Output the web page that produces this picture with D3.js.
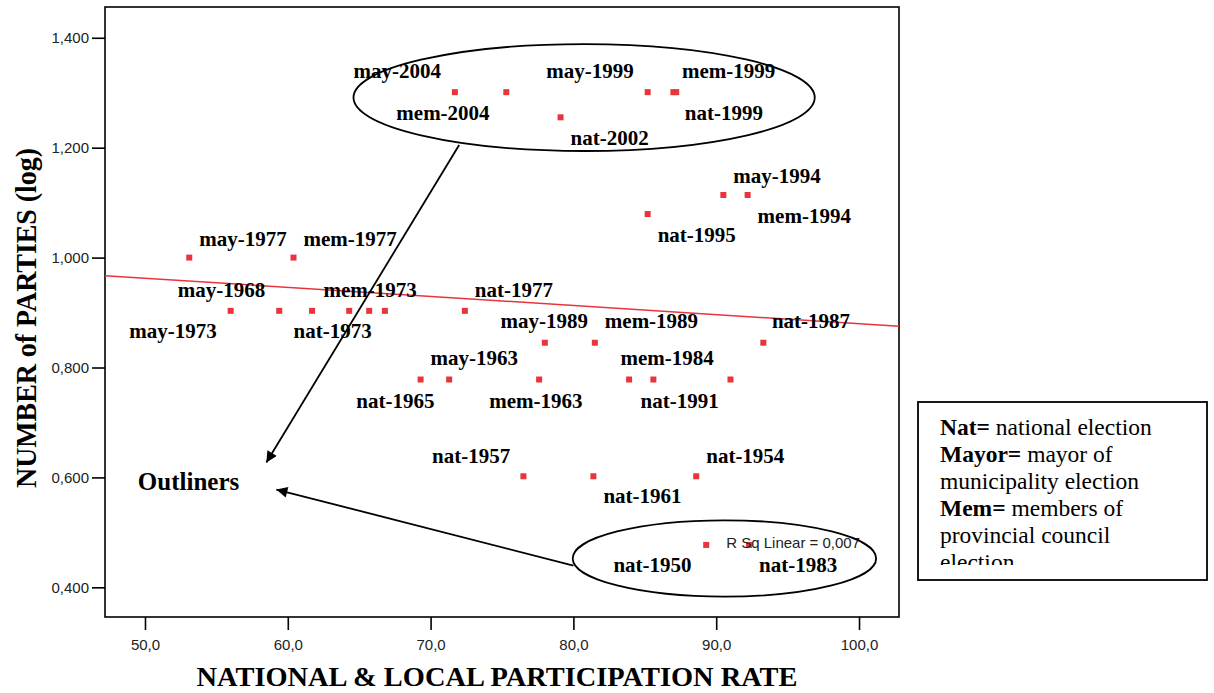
<!DOCTYPE html>
<html>
<head>
<meta charset="utf-8">
<script src="https://cdn.jsdelivr.net/npm/d3@7"></script>
<style>
  body { margin: 0; background: #fff; }
  svg { display: block; }
</style>
</head>
<body>
<svg></svg>
<script>
const width = 1214, height = 693;

// Participation rate (%) and number of parties for every election
const turnout = [
    71.7, 75.3, 85.2, 87.0, 87.2, 79.1,
    90.5, 92.2, 85.2,
    53.1, 60.4,
    56.0, 59.4, 61.7, 64.3, 65.7, 66.8, 72.4,
    78.0, 81.5, 93.3,
    69.3, 71.3, 77.6, 83.9, 85.6, 91.0,
    76.5, 81.4, 88.6,
    89.3, 92.3
];
const parties = [
    20, 20, 20, 20, 20, 18,
    13, 13, 12,
    10, 10,
    8, 8, 8, 8, 8, 8, 8,
    7, 7, 7,
    6, 6, 6, 6, 6, 6,
    4, 4, 4,
    3, 3
];

// Election labels: text, participation, log(parties) where the text starts
const labels = [
    ["may-2004", 64.6, 1.326], ["may-1999", 78.1, 1.326], ["mem-1999", 87.6, 1.326],
    ["mem-2004", 67.6, 1.250], ["nat-1999", 87.8, 1.250], ["nat-2002", 79.8, 1.205],
    ["may-1994", 91.2, 1.136], ["mem-1994", 92.9, 1.063], ["nat-1995", 85.9, 1.029],
    ["may-1977", 53.8, 1.021], ["mem-1977", 61.1, 1.021],
    ["may-1968", 52.3, 0.929], ["mem-1973", 62.5, 0.929], ["nat-1977", 73.1, 0.929],
    ["may-1973", 48.9, 0.853], ["nat-1973", 60.4, 0.853],
    ["may-1989", 74.9, 0.872], ["mem-1989", 82.2, 0.872], ["nat-1987", 93.9, 0.872],
    ["may-1963", 70.0, 0.805], ["mem-1984", 83.3, 0.805],
    ["nat-1965", 64.8, 0.727], ["mem-1963", 74.1, 0.727], ["nat-1991", 84.7, 0.727],
    ["nat-1957", 70.1, 0.626], ["nat-1954", 89.3, 0.626], ["nat-1961", 82.1, 0.553],
    ["nat-1950", 82.8, 0.427], ["nat-1983", 93.0, 0.427]
];

const xTicks = [50, 60, 70, 80, 90, 100];
const yTicks = [0.4, 0.6, 0.8, 1.0, 1.2, 1.4];

const legendLines = [
    ["Nat", " national election"],
    ["Mayor", " mayor of"],
    ["", "municipality election"],
    ["Mem", " members of"],
    ["", "provincial council"],
    ["", "election"]
];

const margin = { top: 7, right: 315, bottom: 76, left: 105 };
const plotW = width - margin.left - margin.right;
const plotH = height - margin.top - margin.bottom;

const svg = d3.select("svg").attr("width", width).attr("height", height);

const x = d3.scaleLinear().domain([47.2, 102.8]).range([0, plotW]);
const y = d3.scaleLinear().domain([0.346, 1.456]).range([plotH, 0]);

const serif = "'Liberation Serif', 'Times New Roman', serif";
const sans = "'Liberation Sans', Arial, sans-serif";
const red = "#e8353d";

const g = svg.append("g").attr("transform", `translate(${margin.left},${margin.top})`);

// Axes
const fmt = d3.formatLocale({ decimal: ",", thousands: ".", grouping: [3], currency: ["", ""] });
const xAxis = g.append("g")
    .attr("transform", `translate(0,${plotH})`)
    .call(d3.axisBottom(x).tickValues(xTicks).tickSize(13).tickPadding(9).tickFormat(fmt.format(".1f")));
const yAxis = g.append("g")
    .call(d3.axisLeft(y).tickValues(yTicks).tickSize(13).tickPadding(3).tickFormat(fmt.format(".3f")));
[xAxis, yAxis].forEach(a => {
    a.select(".domain").remove();
    a.selectAll("line").attr("stroke", "#000").attr("stroke-width", 1.6);
    a.selectAll("text").attr("font-family", sans).attr("font-size", 15).attr("fill", "#222");
});

// Frame
g.append("rect")
    .attr("width", plotW).attr("height", plotH)
    .attr("fill", "none").attr("stroke", "#000").attr("stroke-width", 1.6);

// Linear fit computed from the points
const pts = turnout.map((t, i) => ({ x: t, y: Math.log10(parties[i]) }));
const mx = d3.mean(pts, d => d.x), my = d3.mean(pts, d => d.y);
const slope = d3.sum(pts, d => (d.x - mx) * (d.y - my)) / d3.sum(pts, d => (d.x - mx) ** 2);
const fit = v => my + slope * (v - mx);
const xd = x.domain();
g.append("line")
    .attr("x1", x(xd[0])).attr("y1", y(fit(xd[0])))
    .attr("x2", x(xd[1])).attr("y2", y(fit(xd[1])))
    .attr("stroke", red).attr("stroke-width", 1.5);

// Points
g.selectAll("rect.pt")
    .data(pts)
    .enter().append("rect")
    .attr("class", "pt")
    .attr("x", d => x(d.x) - 3).attr("y", d => y(d.y) - 3)
    .attr("width", 6).attr("height", 6)
    .attr("fill", red);

// Labels
g.selectAll("text.lbl")
    .data(labels)
    .enter().append("text")
    .attr("class", "lbl")
    .attr("x", d => x(d[1])).attr("y", d => y(d[2]))
    .attr("font-family", serif).attr("font-weight", "bold").attr("font-size", 21)
    .text(d => d[0]);

g.append("text")
    .attr("x", x(90.7)).attr("y", y(0.472))
    .attr("font-family", sans).attr("font-size", 15).attr("fill", "#222")
    .text("R Sq Linear = 0,007");

// Outlier ellipses and arrows
const ellipse = (x0, x1, y0, y1) => g.append("ellipse")
    .attr("cx", (x(x0) + x(x1)) / 2).attr("cy", (y(y0) + y(y1)) / 2)
    .attr("rx", (x(x1) - x(x0)) / 2).attr("ry", Math.abs(y(y1) - y(y0)) / 2)
    .attr("fill", "none").attr("stroke", "#000").attr("stroke-width", 1.8);
ellipse(64.6, 96.9, 1.194, 1.3885);
ellipse(79.95, 101.2, 0.383, 0.522);

svg.append("defs").append("marker")
    .attr("id", "head").attr("viewBox", "0 0 10 10")
    .attr("refX", 10).attr("refY", 5)
    .attr("markerWidth", 15).attr("markerHeight", 11)
    .attr("markerUnits", "userSpaceOnUse")
    .attr("orient", "auto")
    .append("path").attr("d", "M0,0L10,5L0,10Z").attr("fill", "#000");

[[72.0, 1.205, 58.5, 0.627], [80.0, 0.4395, 59.2, 0.578]].forEach(a => {
    g.append("line")
        .attr("x1", x(a[0])).attr("y1", y(a[1]))
        .attr("x2", x(a[2])).attr("y2", y(a[3]))
        .attr("stroke", "#000").attr("stroke-width", 1.8)
        .attr("marker-end", "url(#head)");
});

g.append("text")
    .attr("x", x(49.5)).attr("y", y(0.578))
    .attr("font-family", serif).attr("font-weight", "bold").attr("font-size", 25)
    .text("Outliners");

// Axis titles
svg.append("text")
    .attr("x", 497).attr("y", 686)
    .attr("text-anchor", "middle")
    .attr("font-family", serif).attr("font-weight", "bold").attr("font-size", 28)
    .attr("textLength", 601).attr("lengthAdjust", "spacingAndGlyphs")
    .text("NATIONAL & LOCAL PARTICIPATION RATE");

svg.append("text")
    .attr("transform", "translate(36,318) rotate(-90)")
    .attr("text-anchor", "middle")
    .attr("font-family", serif).attr("font-weight", "bold").attr("font-size", 30)
    .attr("textLength", 340).attr("lengthAdjust", "spacingAndGlyphs")
    .text("NUMBER of PARTIES (log)");

// Legend box
const lg = svg.append("g");
lg.append("rect")
    .attr("x", 918).attr("y", 402).attr("width", 289).attr("height", 178)
    .attr("fill", "#fff").attr("stroke", "#000").attr("stroke-width", 1.8);
svg.append("defs").append("clipPath").attr("id", "lgclip")
    .append("rect").attr("x", 918).attr("y", 402).attr("width", 289).attr("height", 163);
const lt = lg.append("g").attr("clip-path", "url(#lgclip)");
legendLines.forEach((l, i) => {
    const t = lt.append("text")
        .attr("x", 940).attr("y", 435 + i * 27)
        .attr("font-family", serif).attr("font-size", 23.5);
    if (l[0]) {
        t.append("tspan").attr("font-weight", "bold").text(l[0] + "=");
    }
    t.append("tspan").text(l[1]);
});
</script>
</body>
</html>
